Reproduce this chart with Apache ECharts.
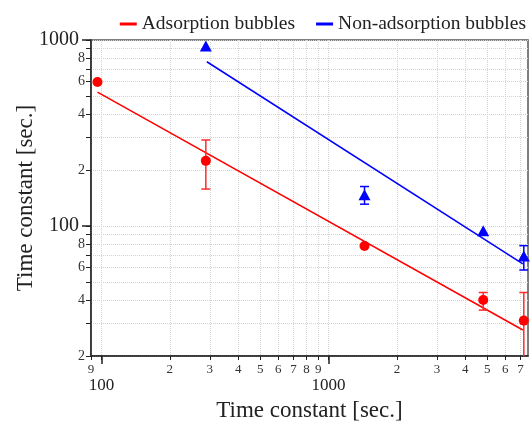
<!DOCTYPE html>
<html><head><meta charset="utf-8">
<script src="https://cdn.jsdelivr.net/npm/echarts@6/dist/echarts.min.js"></script>
<style>html,body{margin:0;padding:0;background:#fff}#c{width:532px;height:424px}</style>
</head><body><div id="c"></div>
<script>
// ---- data (raw values) ----
const xTickValues = [90,100,200,300,400,500,600,700,800,900,1000,2000,3000,4000,5000,6000,7000];
const xMajorTicks = [100,1000];
const yTickValues = [20,30,40,50,60,70,80,90,100,200,300,400,500,600,700,800,900,1000];
const yLabelValues = [20,40,60,80,100,200,400,600,800,1000];
const yMajorTicks = [100,1000];
const xRange = [89.9, 7550];
const yRange = [20, 1000];

const adsX = [96, 288, 1439, 4795, 7236];
const adsY = [594, 224, 78, 40, 31];
const adsErrLow = [null, 158, null, 35.3, 15];
const adsErrHigh = [null, 290, null, 43.9, 43.9];
const adsFitX = [96, 7166];
const adsFitY = [525, 27.6];

const nonX = [288, 1439, 4795, 7236];
const nonY = [928, 147, 94.3, 69];
const nonErrLow = [null, 131, null, 58];
const nonErrHigh = [null, 163, null, 78.4];
const nonFitX = [291, 7166];
const nonFitY = [764, 62.5];

const seriesNames = ['Adsorption bubbles', 'Non-adsorption bubbles'];
const axisTitle = 'Time constant [sec.]';

// ---- build ----
const L = Math.log10;
const RED = '#ff0000', BLUE = '#0000ff';
const FONT = '"Liberation Serif", "Times New Roman", serif';

function pts(xs, ys) { return xs.map((x, i) => [L(x), L(ys[i])]); }
function errs(xs, lo, hi) {
  const out = [];
  xs.forEach((x, i) => { if (lo[i] != null) out.push([L(x), L(lo[i]), L(hi[i])]); });
  return out;
}
function errSeries(data, color) {
  return {
    type: 'custom', data, clip: true, z: 3, silent: true,
    encode: { x: 0, y: [1, 2] },
    renderItem(params, api) {
      const x = api.value(0);
      const p1 = api.coord([x, api.value(1)]);
      const p2 = api.coord([x, api.value(2)]);
      const w = 4.5;
      const style = { stroke: color, lineWidth: 1.5 };
      return { type: 'group', children: [
        { type: 'line', shape: { x1: p1[0], y1: p1[1], x2: p2[0], y2: p2[1] }, style },
        { type: 'line', shape: { x1: p1[0]-w, y1: p1[1], x2: p1[0]+w, y2: p1[1] }, style },
        { type: 'line', shape: { x1: p2[0]-w, y1: p2[1], x2: p2[0]+w, y2: p2[1] }, style }
      ]};
    }
  };
}
function lab(v) { return Math.round(Math.pow(10, v)); }
function firstDigit(n) { return String(n)[0]; }

const chart = echarts.init(document.getElementById('c'), null, { renderer: 'canvas' });
chart.setOption({
  animation: false,
  backgroundColor: '#fff',
  textStyle: { fontFamily: FONT },
  legend: {
    data: seriesNames, right: 1, top: 9, icon: 'rect', itemWidth: 17, itemHeight: 3, itemGap: 21,
    textStyle: { fontFamily: FONT, fontSize: 19.5, color: '#222' }
  },
  grid: { left: 91, right: 4, top: 40, bottom: 68, show: true, borderColor: '#555', borderWidth: 1.5,
          containLabel: false, outerBoundsMode: 'none' },
  xAxis: [{
    type: 'value', min: L(xRange[0]), max: L(xRange[1]),
    name: axisTitle, nameLocation: 'middle', nameGap: 43, nameMoveOverlap: false,
    nameTextStyle: { fontFamily: FONT, fontSize: 23, color: '#222' },
    axisLine: { show: true, lineStyle: { color: '#222', width: 1.5 } },
    axisTick: { show: true, length: 4, inside: false, customValues: xTickValues.map(L), lineStyle: { color: '#222' } },
    axisLabel: {
      customValues: xTickValues.map(L), margin: 7,
      formatter: v => { const n = lab(v); return xMajorTicks.includes(n) ? '{maj|' + n + '}' : '{min|' + firstDigit(n) + '}'; },
      rich: {
        min: { fontFamily: FONT, fontSize: 13, color: '#333' },
        maj: { fontFamily: FONT, fontSize: 17, color: '#222', padding: [14, 0, 0, 0] }
      }
    },
    splitLine: { show: true, lineStyle: { type: 'dotted', color: '#d2d2d2', width: 1 } }
  }, {
    type: 'value', min: L(xRange[0]), max: L(xRange[1]), position: 'bottom',
    axisLine: { show: false }, axisLabel: { show: false }, splitLine: { show: false },
    axisTick: { show: true, length: 8, customValues: xMajorTicks.map(L), lineStyle: { color: '#222', width: 1.5 } }
  }],
  yAxis: [{
    type: 'value', min: L(yRange[0]), max: L(yRange[1]),
    name: axisTitle, nameLocation: 'middle', nameGap: 54, nameRotate: 90, nameMoveOverlap: false,
    nameTextStyle: { fontFamily: FONT, fontSize: 23, color: '#222' },
    axisLine: { show: true, lineStyle: { color: '#222', width: 1.5 } },
    axisTick: { show: true, length: 5, inside: false, customValues: yTickValues.map(L), lineStyle: { color: '#222' } },
    axisLabel: {
      customValues: yLabelValues.map(L), margin: 6,
      formatter: v => { const n = lab(v); return yMajorTicks.includes(n) ? '{maj|' + n + '}' : '{min|' + firstDigit(n) + '}'; },
      rich: {
        min: { fontFamily: FONT, fontSize: 14, color: '#333' },
        maj: { fontFamily: FONT, fontSize: 20, color: '#222', padding: [0, 6, 0, 0] }
      }
    },
    splitLine: { show: true, lineStyle: { type: 'dotted', color: '#d2d2d2', width: 1 } }
  }, {
    type: 'value', min: L(yRange[0]), max: L(yRange[1]), position: 'left',
    axisLine: { show: false }, axisLabel: { show: false }, splitLine: { show: false },
    axisTick: { show: true, length: 9, customValues: yMajorTicks.map(L), lineStyle: { color: '#222', width: 1.5 } }
  }],
  series: [
    { name: seriesNames[0], type: 'line', data: pts(adsFitX, adsFitY), symbol: 'none', z: 2,
      lineStyle: { color: RED, width: 1.5 }, itemStyle: { color: RED } },
    { name: seriesNames[1], type: 'line', data: pts(nonFitX, nonFitY), symbol: 'none', z: 2,
      lineStyle: { color: BLUE, width: 1.5 }, itemStyle: { color: BLUE } },
    errSeries(errs(adsX, adsErrLow, adsErrHigh), '#ff2a2a'),
    errSeries(errs(nonX, nonErrLow, nonErrHigh), BLUE),
    { name: 'ads-pts', type: 'scatter', data: pts(adsX, adsY), symbol: 'circle', symbolSize: 10, z: 4,
      itemStyle: { color: RED, opacity: 1 } },
    { name: 'non-pts', type: 'scatter', data: pts(nonX, nonY), symbol: 'triangle', symbolSize: [12, 11], z: 4,
      itemStyle: { color: BLUE, opacity: 1 } }
  ]
});
</script></body></html>
